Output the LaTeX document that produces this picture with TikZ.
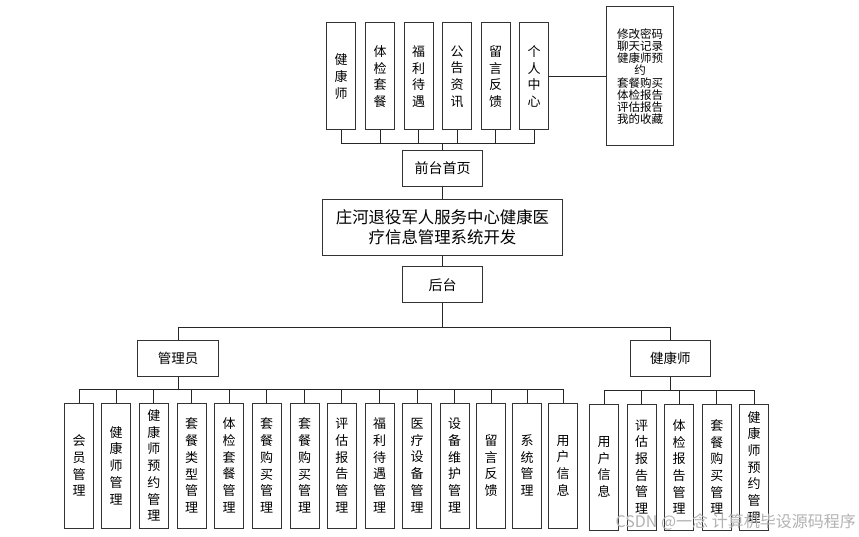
\documentclass[tikz,border=0pt]{standalone}
\usepackage{fontspec}
\setmainfont{Noto Sans CJK SC}
\usetikzlibrary{positioning}

\begin{document}
\begin{tikzpicture}[x=1pt, y=-1pt]
      \tikzstyle{every node} = [inner sep = 0pt];
      \tikzstyle{box} = [draw = black!80, line width = 1pt, fill = white, align = center];
      \tikzstyle{vbox} = [box, minimum width = 29pt, minimum height = 125pt, font = \fontsize{13}{16.7}\selectfont];
      \tikzstyle{hbox} = [box, minimum width = 80.5pt, minimum height = 36pt, font = \fontsize{14}{16}\selectfont];
      \tikzstyle{link} = [draw = black!85, line width = 1pt];
      \useasboundingbox (0,0) rectangle (859,537);
      % front end
      \foreach \x/\t [count=\i] in {341/健\\康\\师, 380/体\\检\\套\\餐, 418.5/福\\利\\待\\遇,
        457/公\\告\\资\\讯, 495.5/留\\言\\反\\馈, 534/个\\人\\中\\心}{
        \node [vbox, minimum height = 107pt] (t\i) at (\x, 76.5) {\t};
      }
      \node [box, minimum width = 67pt, minimum height = 139pt, font = \fontsize{11.5}{12.2}\selectfont]
        (me) at (640, 76.5) {修改密码\\聊天记录\\健康师预\\约\\套餐购买\\体检报告\\评估报告\\我的收藏};
      \node [hbox] (qt) at (442.5, 168.3) {前台首页};
      \node [box, minimum width = 240pt, minimum height = 56pt, font = \fontsize{16.4}{20}\selectfont]
        (main) at (442.5, 227.3) {庄河退役军人服务中心健康医\\疗信息管理系统开发};
      \node [hbox] (ht) at (442.5, 284.8) {后台};
      \node [hbox, font = \fontsize{13.5}{16}\selectfont] (gl) at (178, 358) {管理员};
      \node [hbox, font = \fontsize{13.5}{16}\selectfont] (js) at (670.3, 358.8) {健康师};
      % admin modules
      \foreach \x/\t [count=\i] in {79/会\\员\\管\\理, 116.2/健\\康\\师\\管\\理, 153.8/健\\康\\师\\预\\约\\管\\理,
        191.5/套\\餐\\类\\型\\管\\理, 229.2/体\\检\\套\\餐\\管\\理, 266.7/套\\餐\\购\\买\\管\\理,
        304.5/套\\餐\\购\\买\\管\\理, 341.8/评\\估\\报\\告\\管\\理, 379.5/福\\利\\待\\遇\\管\\理,
        417.2/医\\疗\\设\\备\\管\\理, 454.7/设\\备\\维\\护\\管\\理, 491.2/留\\言\\反\\馈,
        527.2/系\\统\\管\\理, 563.2/用\\户\\信\\息}{
        \node [vbox] (a\i) at (\x, 465.5) {\t};
      }
      % health modules
      \foreach \x/\t [count=\i] in {604/用\\户\\信\\息, 641.5/评\\估\\报\\告\\管\\理, 679/体\\检\\报\\告\\管\\理,
        716.8/套\\餐\\购\\买\\管\\理, 754.2/健\\康\\师\\预\\约\\管\\理}{
        \node [vbox, minimum height = 126pt] (h\i) at (\x, 467) {\t};
      }
      % connectors
      \coordinate (tbus) at (qt.north |- 0,144);
      \foreach \i in {1,...,6}{
        \draw [link] (t\i.south) |- (tbus);
      }
      \draw [link] (tbus) -- (qt.north);
      \draw [link] (t6.east) -- (me.west);
      \draw [link] (qt) -- (main);
      \draw [link] (main) -- (ht);
      \coordinate (rbus) at (ht.south |- 0,327);
      \draw [link] (ht.south) -- (rbus);
      \draw [link] (gl.north) |- (rbus);
      \draw [link] (js.north) |- (rbus);
      \coordinate (gbus) at (gl.south |- 0,389.3);
      \draw [link] (gl.south) -- (gbus);
      \foreach \i in {1,...,14}{
        \draw [link] (a\i.north) |- (gbus);
      }
      \coordinate (jbus) at (js.south |- 0,390.7);
      \draw [link] (js.south) -- (jbus);
      \foreach \i in {1,...,5}{
        \draw [link] (h\i.north) |- (jbus);
      }
      \node [anchor = east, text = black!30, font = \fontsize{16}{18}\selectfont] (wm) at (856, 522) {CSDN @一念 计算机毕设源码程序};
    \end{tikzpicture}
\end{document}
